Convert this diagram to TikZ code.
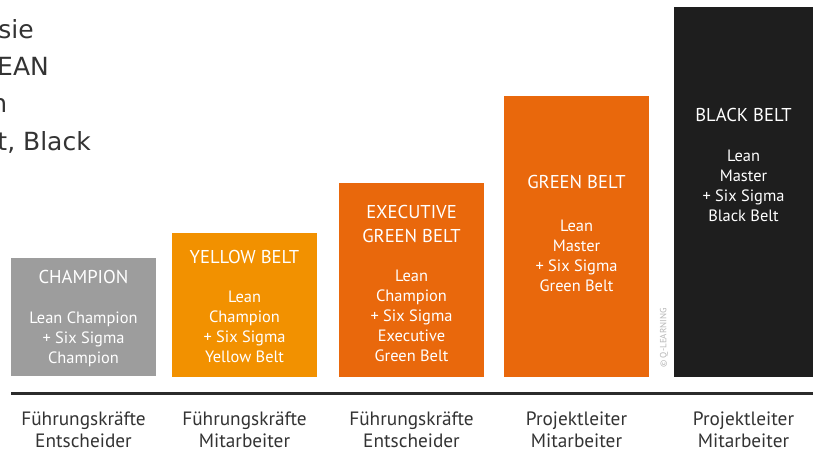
\documentclass[tikz,border=0pt]{standalone}
\usepackage{fontspec}
\setmainfont{PT Sans}
\newfontfamily\dejavu{DejaVu Sans}
\definecolor{cgray}{HTML}{9D9D9D}
\definecolor{cyellow}{HTML}{F29100}
\definecolor{corange}{HTML}{E9680C}
\definecolor{cblack}{HTML}{1E1E1E}
\definecolor{cline}{HTML}{2B2B2B}
\definecolor{ctext}{HTML}{333333}
\definecolor{ccopy}{HTML}{B5B5B5}
\begin{document}
\begin{tikzpicture}[x=1pt,y=-1pt,
 belt/.style={draw=none, inner sep=0pt, outer sep=0pt, minimum width=145pt, anchor=north west},
 btitle/.style={text=white, font=\fontsize{18.6}{24}\selectfont, align=center, inner sep=0pt},
 bbody/.style={text=white, font=\fontsize{16.4}{20}\selectfont, align=center, inner sep=0pt},
 group/.style={text=ctext, font=\fontsize{19.3}{22.5}\selectfont, align=center, inner sep=0pt},
 intro/.style={text=ctext, font=\dejavu\fontsize{25}{30}\selectfont, anchor=base east, inner sep=0pt},
]
\useasboundingbox (0,0) rectangle (813,452);
\clip (0,0) rectangle (813,452);

% intro text (cut off at left, as in the reference)
\node[intro] (i1) at (34,38) {sie};
\node[intro] (i2) at (49,75) {EAN};
\node[intro] (i3) at (7.5,112) {n};
\node[intro] (i4) at (91,150) {t, Black};

% belt boxes
\node[belt, fill=cgray, minimum height=118pt] (champ) at (11,258) {};
\node[belt, fill=cyellow, minimum height=144pt] (yellow) at (172,233) {};
\node[belt, fill=corange, minimum height=194pt] (exec) at (339,183) {};
\node[belt, fill=corange, minimum height=281pt] (green) at (504,96) {};
\node[belt, fill=cblack, minimum height=370pt, minimum width=140pt] (black) at (674,7) {};

% box texts
\node[btitle] (t1) at (83.5,277) {CHAMPION};
\node[bbody] (b1) at (83.5,339) {Lean Champion\\+ Six Sigma\\Champion};
\node[btitle] (t2) at (244.5,257) {YELLOW BELT};
\node[bbody] (b2) at (244.5,327) {Lean\\Champion\\+ Six Sigma\\Yellow Belt};
\node[btitle] (t3) at (411.5,224) {EXECUTIVE\\GREEN BELT};
\node[bbody] (b3) at (411.5,316) {Lean\\Champion\\+ Six Sigma\\Executive\\Green Belt};
\node[btitle] (t4) at (576.5,182) {GREEN BELT};
\node[bbody] (b4) at (576.5,256) {Lean\\Master\\+ Six Sigma\\Green Belt};
\node[btitle] (t5) at (743.5,115) {BLACK BELT};
\node[bbody] (b5) at (743.5,186) {Lean\\Master\\+ Six Sigma\\Black Belt};

% copyright
\node[rotate=90, text=ccopy, font=\fontsize{9}{10}\selectfont, inner sep=0pt] (copy) at (664,338) {© Q-LEARNING};

% base line
\coordinate (l1) at (11,393);
\coordinate (l2) at (813,393);
\draw[cline, line width=3pt] (l1) -- (l2);

% group labels
\node[group] (g1) at (83.5,430) {Führungskräfte\\Entscheider};
\node[group] (g2) at (244.5,430) {Führungskräfte\\Mitarbeiter};
\node[group] (g3) at (411.5,430) {Führungskräfte\\Entscheider};
\node[group] (g4) at (576.5,430) {Projektleiter\\Mitarbeiter};
\node[group] (g5) at (743.5,430) {Projektleiter\\Mitarbeiter};
\end{tikzpicture}
\end{document}
